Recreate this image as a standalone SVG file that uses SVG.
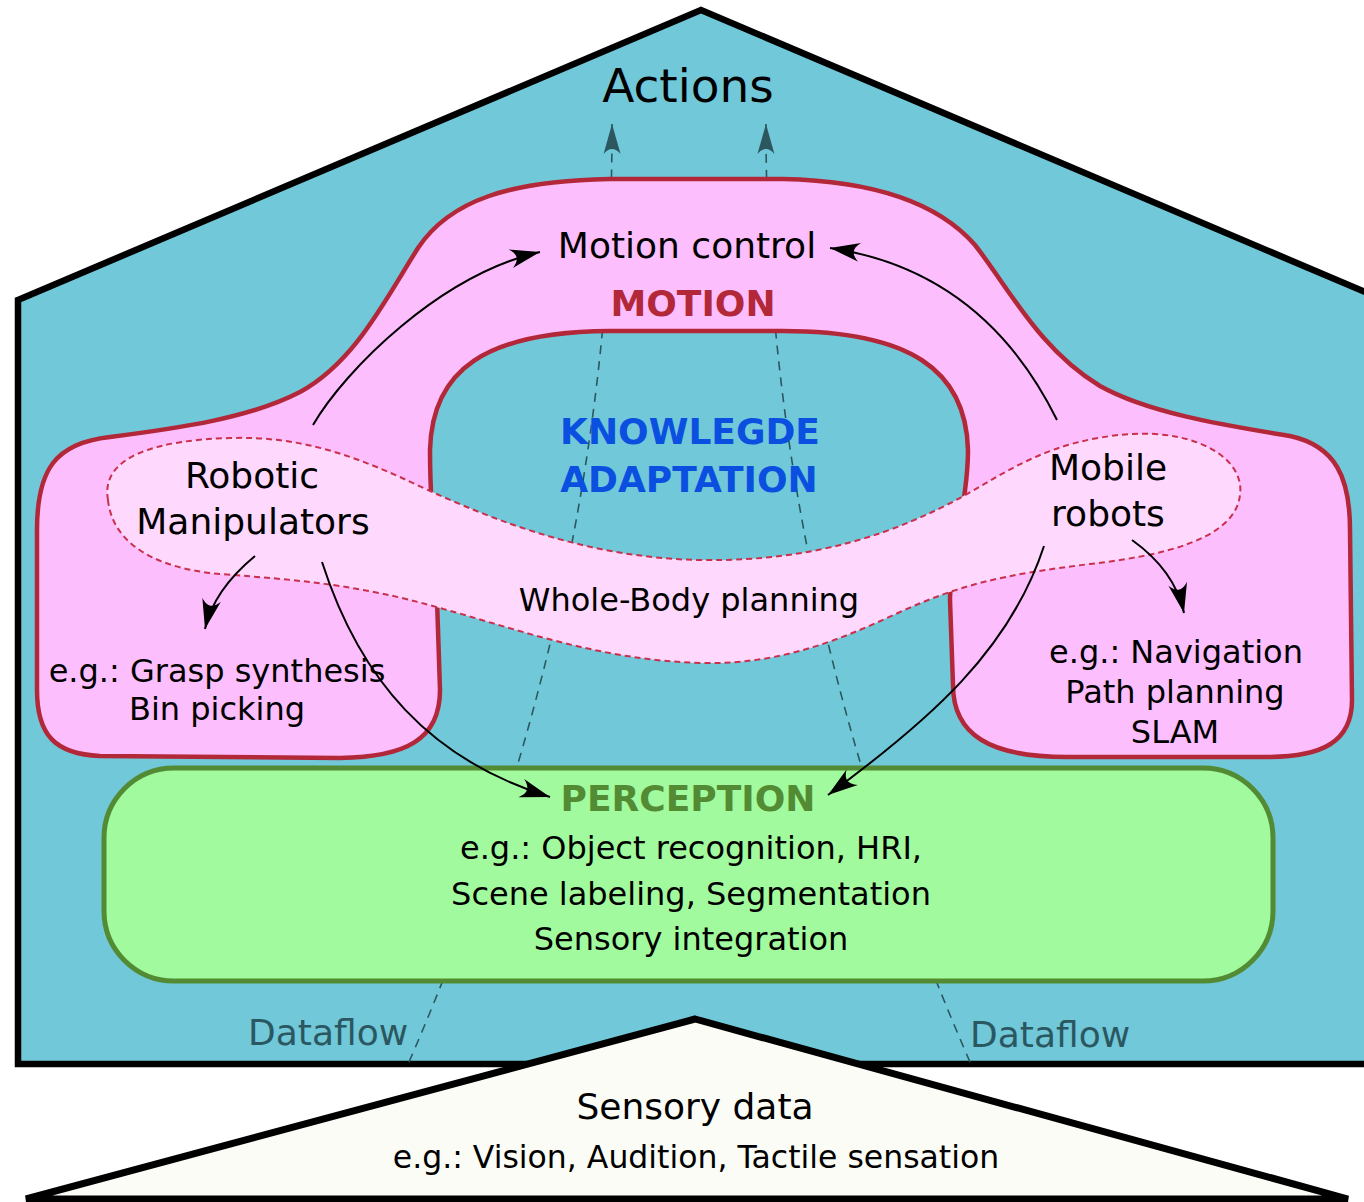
<svg xmlns="http://www.w3.org/2000/svg" width="1364" height="1202" viewBox="0 0 1364 1202">
<style>
text{font-family:"DejaVu Sans","Liberation Sans",sans-serif;text-anchor:middle;fill:#000}
.b{font-weight:bold}
.conn{fill:none;stroke:#000;stroke-width:2}
.flow{fill:none;stroke:#2c575e;stroke-width:1.6;stroke-dasharray:9,7}
.df{fill:#2b5761;font-size:36px;text-anchor:start}
</style>
<defs>
<marker id="ah" markerUnits="userSpaceOnUse" viewBox="-32 -11 34 22" refX="0" refY="0" markerWidth="34" markerHeight="22" orient="auto">
<path d="M0,0 L-30,-9.5 C-22,-3 -22,3 -30,9.5 Z" fill="#000"/>
</marker>
<marker id="fh" markerUnits="userSpaceOnUse" viewBox="-32 -10 34 20" refX="0" refY="0" markerWidth="34" markerHeight="20" orient="auto">
<path d="M0,0 L-30,-8.5 Q-20,0 -30,8.5 Z" fill="#2c575e"/>
</marker>
</defs>

<g id="house">
<path d="M18,300 L701,10 L1384,300 L1384,1064 L18,1064 Z" fill="#71c8d9" stroke="#000" stroke-width="6.5"/>
<text x="688" y="102" font-size="47">Actions</text>
</g>

<g id="dataflow">
<path class="flow" d="M409,1062 Q613,592 612,124" marker-end="url(#fh)"/>
<path class="flow" d="M970,1062 Q765,592 766,124" marker-end="url(#fh)"/>
<text class="df" x="248" y="1045">Dataflow</text>
<text class="df" x="970" y="1047">Dataflow</text>
</g>

<g id="motion">
<path d="M37,690 L37,530 C37,470 55,443 110,437 C180,428 250,418 300,392 C355,362 385,300 418,248 C450,200 510,181 609,179 L783,179 C880,181 940,205 975,245 C1010,290 1040,350 1100,386 C1150,414 1230,426 1290,436 C1336,446 1350,478 1350,530 L1352,700 C1352,742 1322,757 1267,757 L1067,757 C990,757 953,735 953,685 L950,600 C950,560 968,500 968,450 C966,370 910,331 783,331 L609,331 C485,332 432,370 430,450 C430,520 437,560 437,600 L440,690 C440,740 405,757 340,758 L100,756 C55,754 37,735 37,690 Z" fill="#fdbefd" stroke="#b22839" stroke-width="4.5"/>
<text x="687" y="258" font-size="36">Motion control</text>
<text class="b" x="693" y="316" font-size="36" style="fill:#b22839">MOTION</text>
<text x="217" y="682" font-size="32">e.g.: Grasp synthesis</text>
<text x="217" y="720" font-size="32">Bin picking</text>
<text x="1176" y="663" font-size="32">e.g.: Navigation</text>
<text x="1175" y="703" font-size="32">Path planning</text>
<text x="1175" y="743" font-size="32">SLAM</text>
</g>

<g id="knowledge">
<text class="b" x="690" y="444" font-size="36" style="fill:#0a4fdf">KNOWLEGDE</text>
<text class="b" x="689" y="492" font-size="36" style="fill:#0a4fdf">ADAPTATION</text>
</g>

<g id="wholebody">
<path d="M108,500 C100,455 160,440 230,438 C300,436 350,455 400,477 C480,515 580,558 700,560 C820,562 900,530 960,498 C1010,470 1050,440 1130,434 C1200,430 1245,460 1240,495 C1235,540 1160,556 1090,564 C1000,575 960,585 900,612 C840,640 780,665 700,663 C600,660 520,630 440,608 C360,585 300,580 220,574 C150,568 112,540 108,500 Z" fill="#ffd9fd" stroke="#c9304b" stroke-width="2" stroke-dasharray="6,4"/>
<text x="252" y="488" font-size="36">Robotic</text>
<text x="253" y="534" font-size="36">Manipulators</text>
<text x="1108" y="480" font-size="36">Mobile</text>
<text x="1108" y="526" font-size="36">robots</text>
<text x="689" y="611" font-size="32">Whole-Body planning</text>
</g>

<g id="perception">
<rect x="104" y="768" width="1169" height="213" rx="70" ry="70" fill="#a1fa9d" stroke="#528b33" stroke-width="5"/>
<text class="b" x="688" y="811" font-size="36" style="fill:#528b33">PERCEPTION</text>
<text x="691" y="859" font-size="32">e.g.: Object recognition, HRI,</text>
<text x="691" y="905" font-size="32">Scene labeling, Segmentation</text>
<text x="691" y="950" font-size="32">Sensory integration</text>
</g>

<g id="connectors">
<path class="conn" d="M313,425 C345,370 440,275 540,252" marker-end="url(#ah)"/>
<path class="conn" d="M1057,420 C1015,335 945,265 830,248" marker-end="url(#ah)"/>
<path class="conn" d="M255,556 C232,575 212,598 205,629" marker-end="url(#ah)"/>
<path class="conn" d="M322,562 C360,680 430,760 550,797" marker-end="url(#ah)"/>
<path class="conn" d="M1044,546 C1010,650 930,720 828,795" marker-end="url(#ah)"/>
<path class="conn" d="M1132,540 C1160,560 1178,585 1184,613" marker-end="url(#ah)"/>
</g>

<g id="sensory">
<path d="M695,1019 L1348,1199 L26,1199 Z" fill="#fcfcf6" stroke="#000" stroke-width="7" stroke-linejoin="miter"/>
<text x="695" y="1119" font-size="36">Sensory data</text>
<text x="696" y="1168" font-size="31.5">e.g.: Vision, Audition, Tactile sensation</text>
</g>
</svg>
